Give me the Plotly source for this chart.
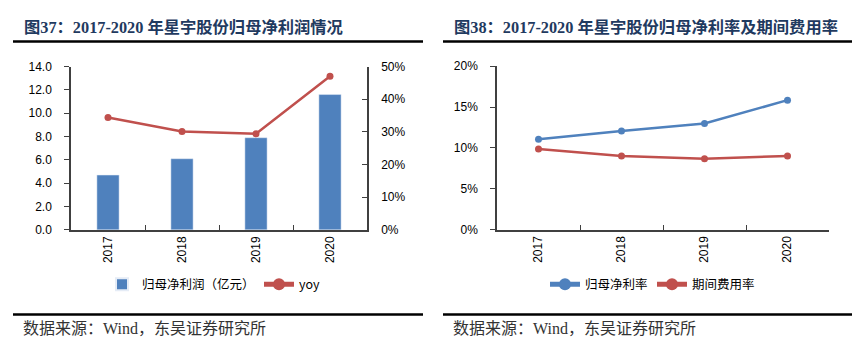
import plotly.graph_objects as go

years = ["2017", "2018", "2019", "2020"]
net_profit = [4.7, 6.1, 7.9, 11.6]          # 亿元
yoy = [0.344, 0.301, 0.294, 0.470]
net_margin = [0.1106, 0.1208, 0.1299, 0.1585]
expense_ratio = [0.0988, 0.0902, 0.0867, 0.0902]

title_left = "图37：2017-2020 年星宇股份归母净利润情况"
title_right = "图38：2017-2020 年星宇股份归母净利率及期间费用率"
source_text = "数据来源：Wind，东吴证券研究所"

W, H = 857, 356
BLUE = "#4F81BD"
RED = "#C0504D"
AX = "#404040"
NAVY = "#1F3A60"
TICKFONT = dict(family="Liberation Sans, Arial, Noto Sans CJK SC", size=12, color="#000000")
LEGFONT = dict(family="Noto Sans CJK SC, Liberation Sans", size=12.5, color="#000")

def px(x):
    return x / W

def py(y):
    return 1 - y / H

fig = go.Figure()

fig.add_trace(go.Bar(x=years, y=net_profit, name="归母净利润（亿元）", marker_color=BLUE,
                     width=0.3, xaxis="x", yaxis="y", legend="legend"))
fig.add_trace(go.Scatter(x=years, y=yoy, name="yoy", mode="lines+markers",
                         line=dict(color=RED, width=2.5), marker=dict(size=7, color=RED),
                         xaxis="x", yaxis="y2", legend="legend"))
fig.add_trace(go.Scatter(x=years, y=net_margin, name="归母净利率", mode="lines+markers",
                         line=dict(color=BLUE, width=2.5), marker=dict(size=7, color=BLUE),
                         xaxis="x2", yaxis="y3", legend="legend2"))
fig.add_trace(go.Scatter(x=years, y=expense_ratio, name="期间费用率", mode="lines+markers",
                         line=dict(color=RED, width=2.5), marker=dict(size=7, color=RED),
                         xaxis="x2", yaxis="y3", legend="legend2"))

ydom = [py(232), py(62)]
common_x = dict(type="category", range=[-0.5, 3.5], showline=True, linecolor=AX, linewidth=1.5,
                ticks="inside", tickson="boundaries", ticklen=5, tickcolor=AX, tickangle=-90,
                tickfont=TICKFONT, showgrid=False, zeroline=False, fixedrange=True)

fig.update_layout(
    width=W, height=H,
    margin=dict(l=0, r=0, t=0, b=0),
    paper_bgcolor="white", plot_bgcolor="white",
    bargap=0.7,
    xaxis=dict(domain=[px(71), px(367)], anchor="y", **common_x),
    yaxis=dict(domain=ydom, range=[0, 14], dtick=2, tickformat=".1f", showline=True,
               linecolor=AX, linewidth=1.5, ticks="outside", ticklen=5, tickcolor=AX,
               ticklabelstandoff=10,
               showgrid=False, zeroline=False, tickfont=TICKFONT, anchor="x"),
    yaxis2=dict(domain=ydom, range=[0, 0.5], dtick=0.1, tickformat=".0%", overlaying="y",
                side="right", anchor="x", showline=True, linecolor=AX, linewidth=1.5,
                ticks="inside", ticklen=5, tickcolor=AX, showgrid=False, zeroline=False,
                ticklabelstandoff=10, tickfont=TICKFONT),
    xaxis2=dict(domain=[px(497), px(829)], anchor="y3", **common_x),
    yaxis3=dict(domain=[py(231.7), py(61.7)], range=[0, 0.2], dtick=0.05, tickformat=".0%",
                anchor="x2", showline=True, linecolor=AX, linewidth=1.5, ticks="outside",
                ticklen=5, tickcolor=AX, showgrid=False, zeroline=False, tickfont=TICKFONT,
                ticklabelstandoff=10),
    legend=dict(orientation="h", x=px(102), y=py(289), xanchor="left", yanchor="middle",
                font=LEGFONT, bgcolor="rgba(0,0,0,0)", itemsizing="constant",
                tracegroupgap=0, entrywidth=112),
    legend2=dict(orientation="h", x=px(545), y=py(289), xanchor="left", yanchor="middle",
                 font=LEGFONT, bgcolor="rgba(0,0,0,0)", itemsizing="constant",
                 tracegroupgap=0, entrywidth=62),
    showlegend=True,
)

# titles
for x0, txt in [(22, title_left), (452, title_right)]:
    fig.add_annotation(x=px(x0), y=py(21), xref="paper", yref="paper", text="<b>" + txt + "</b>",
                       showarrow=False, xanchor="left", yanchor="middle",
                       font=dict(family="Liberation Serif, Noto Sans CJK SC", size=16.3, color=NAVY))
# source
for x0 in [21, 451]:
    fig.add_annotation(x=px(x0), y=py(335), xref="paper", yref="paper", text=source_text,
                       showarrow=False, xanchor="left", yanchor="middle",
                       font=dict(family="Liberation Serif, Noto Sans CJK SC", size=16, color="#333"))
# separator rules
for (x0, x1) in [(13, 423), (443, 852)]:
    for yy in (36, 320):
        fig.add_shape(type="line", xref="paper", yref="paper", x0=px(x0), x1=px(x1),
                      y0=py(yy), y1=py(yy), line=dict(color="#000", width=2.5))

fig.write_html("out.html", config={"displayModeBar": False},
               post_script="document.body.style.margin='0';document.body.style.overflow='hidden';")
